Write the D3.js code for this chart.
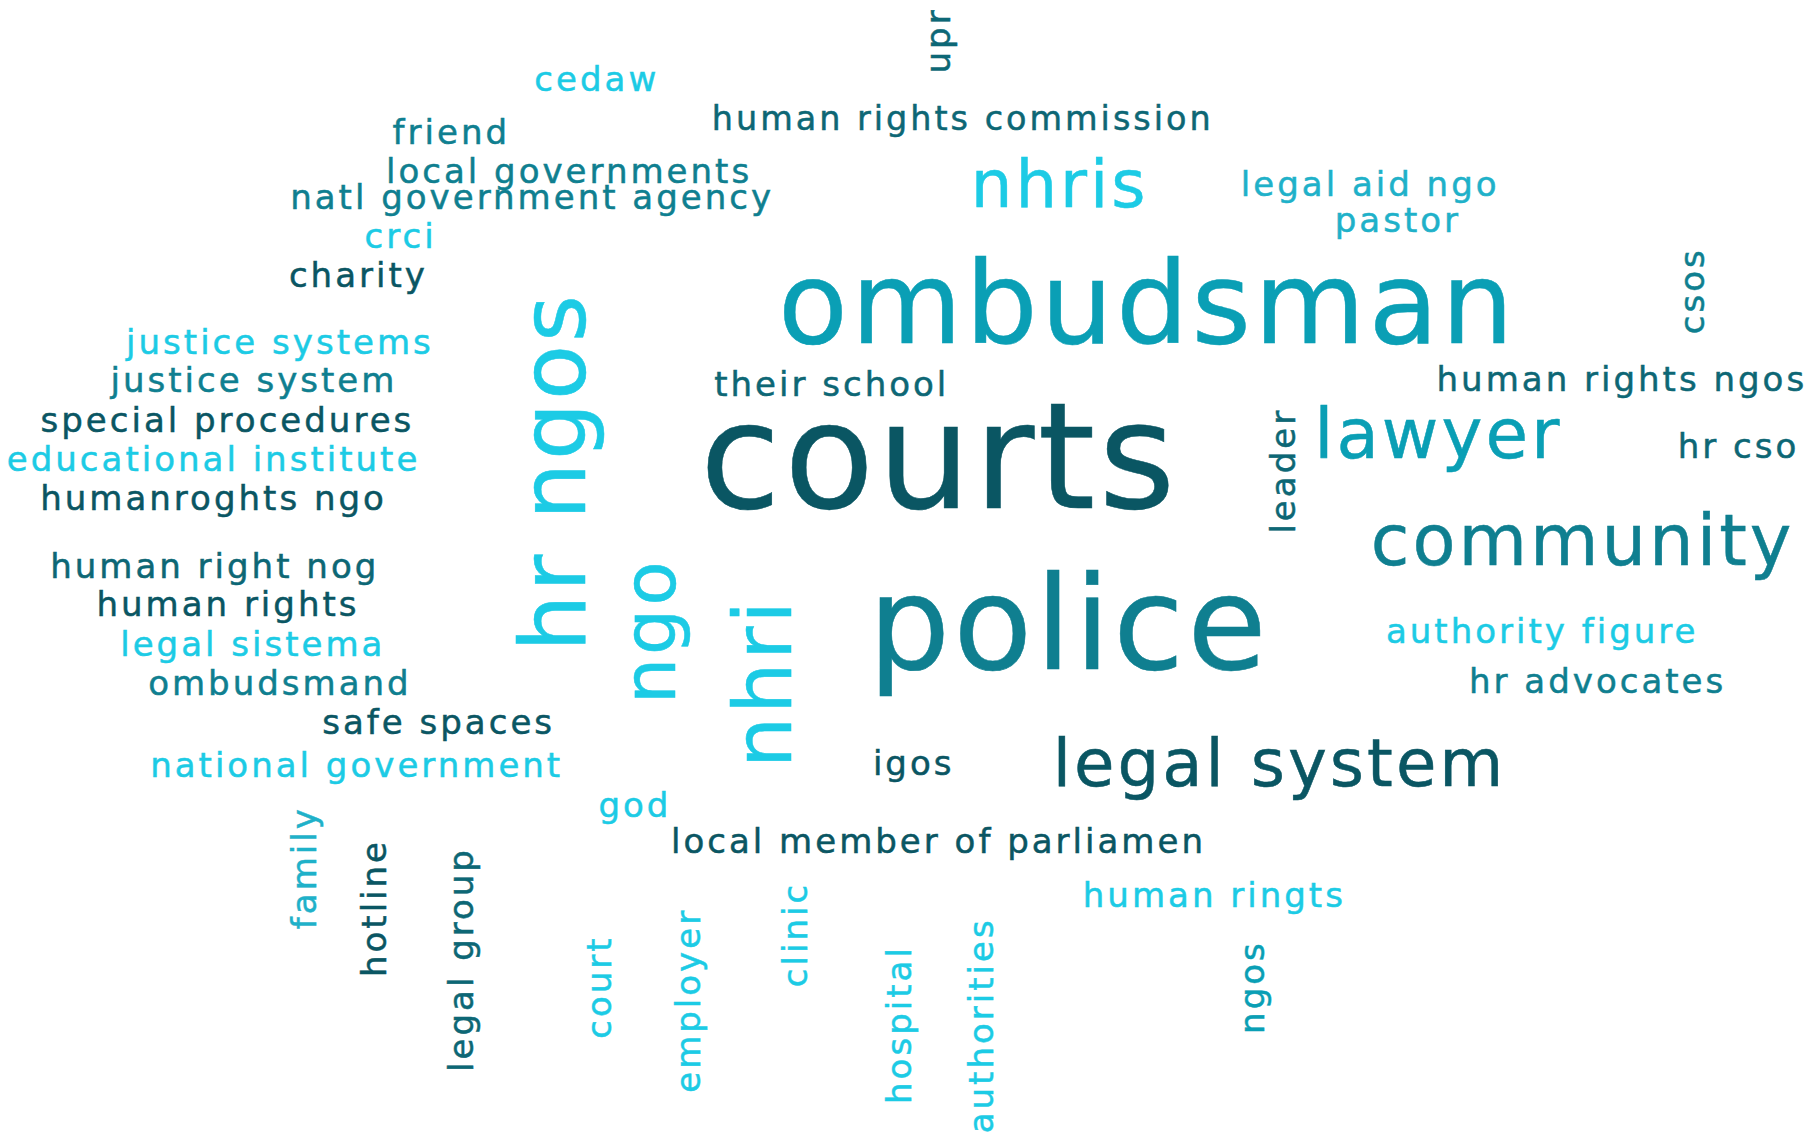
<!DOCTYPE html>
<html>
<head>
<meta charset="utf-8">
<script src="https://cdn.jsdelivr.net/npm/d3@7/dist/d3.min.js"></script>
<style>
  html, body { margin: 0; padding: 0; background: #fff; }
</style>
</head>
<body>
<div id="d3container"></div>
<script>
// word cloud terms, in the order they are laid out (top to bottom)
const words = [
  'upr', 'cedaw', 'human rights commission', 'friend', 'local governments',
  'natl government agency', 'nhris', 'legal aid ngo', 'pastor', 'crci',
  'charity', 'ombudsman', 'csos', 'justice systems', 'their school',
  'human rights ngos', 'justice system', 'special procedures', 'educational institute',
  'humanroghts ngo', 'courts', 'lawyer', 'hr cso', 'leader', 'hr ngos',
  'community', 'human right nog', 'human rights', 'legal sistema', 'ombudsmand',
  'police', 'ngo', 'nhri', 'authority figure', 'hr advocates', 'safe spaces',
  'national government', 'igos', 'legal system', 'god', 'local member of parliamen',
  'human ringts', 'family', 'hotline', 'legal group', 'court', 'employer',
  'clinic', 'hospital', 'authorities', 'ngos',
];

// relative weight of each term (cloud units)
const weights = [
  29.5, 29.5, 29, 29.5, 29.5,
  29.5, 57, 29.5, 29.5, 29.5,
  29.5, 99, 29.5, 29.5, 29.5,
  29.5, 29.5, 29.5, 29.5,
  29.5, 128, 60, 29.5, 29.5, 78,
  61, 29.5, 29.5, 29.5, 29.5,
  112, 63, 70, 29.5, 29.5, 29.5,
  29.5, 29.5, 57, 29.5, 29.5,
  29.5, 29.5, 29.5, 29.5, 29.5, 29.5,
  29.5, 29.5, 29.5, 29.5,
];

// colour group of each term
const shades = [
  4, 0, 4, 3, 3,
  3, 0, 1, 1, 0,
  5, 2, 3, 0, 4,
  4, 3, 5, 0,
  5, 5, 2, 4, 4, 0,
  3, 4, 5, 0, 3,
  3, 0, 0, 0, 3, 5,
  0, 5, 5, 0, 5,
  0, 1, 5, 4, 0, 0,
  0, 0, 0, 2,
];

// 0 = horizontal, -90 = reads bottom to top
const angles = [
  -90, 0, 0, 0, 0,
  0, 0, 0, 0, 0,
  0, 0, -90, 0, 0,
  0, 0, 0, 0,
  0, 0, 0, 0, -90, -90,
  0, 0, 0, 0, 0,
  0, -90, -90, 0, 0, 0,
  0, 0, 0, 0, 0,
  0, -90, -90, -90, -90, -90,
  -90, -90, -90, -90,
];

// placement in cloud units (word centre along the text, baseline across it)
const xPos = [
  823, 517, 834, 391, 493,
  461, 918, 1187, 1211, 347,
  310.5, 994, 1476, 242.5, 720.5,
  1405, 220, 197, 185,
  185, 813.5, 1246, 1506, 1122, 506.5,
  1371, 186, 197.5, 219, 242.5,
  926, 585, 685, 1336, 1384, 380,
  309, 791.5, 1108.5, 550, 813,
  1052, 274, 334, 410, 529, 606,
  699, 789, 860, 1095,
];

const yPos = [
  35, 79, 113, 124.5, 159,
  181, 179, 170, 201.5, 215,
  249, 297, 252, 307, 343,
  339, 340, 374, 408.5,
  442, 440, 397, 397, 408, 409,
  490, 501, 534, 568.5, 602,
  580, 547, 592, 557.5, 601, 636,
  673.5, 671.5, 681, 708, 739.5,
  786, 752, 787, 831.6, 855.5, 867,
  810, 888, 888.7, 855.5,
];

const palette = ['#1ccbe5', '#1fb1c9', '#0a9fb5', '#0f7f90', '#0d6775', '#0a5663'];

const width = 1810;
const height = 1133;

const svg = d3.select('#d3container').append('svg')
  .attr('width', width)
  .attr('height', height);

const x = d3.scaleLinear().domain([0, 1568]).range([0, width]);
const y = d3.scaleLinear().domain([0, 982]).range([0, height]);
const size = d3.scaleLinear().domain([0, 982]).range([0, height]);
const color = d3.scaleOrdinal().domain(d3.range(palette.length)).range(palette);

const cloud = words.map((w, i) => ({
  text: w,
  weight: weights[i],
  shade: shades[i],
  angle: angles[i],
  x: xPos[i],
  y: yPos[i],
}));

svg.selectAll('.word')
  .data(cloud)
  .enter().append('text')
    .attr('class', 'word')
    .attr('transform', d => `translate(${x(d.x)},${y(d.y)}) rotate(${d.angle})`)
    .style('font-family', '"DejaVu Sans", sans-serif')
    .style('font-size', d => `${size(d.weight)}px`)
    .style('letter-spacing', '3px')
    .style('text-anchor', 'middle')
    .style('fill', d => color(d.shade))
    .style('stroke', d => color(d.shade))
    .style('stroke-width', '0.5px')
    .text(d => d.text);
</script>
</body>
</html>
